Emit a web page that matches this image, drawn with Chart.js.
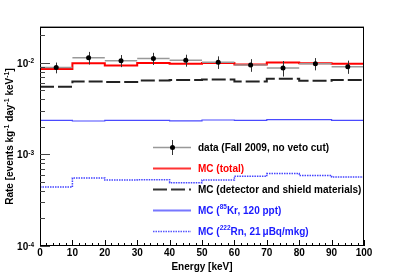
<!DOCTYPE html>
<html><head><meta charset="utf-8">
<script src="https://cdn.jsdelivr.net/npm/chart.js@4.4.0/dist/chart.umd.min.js"></script>
<style>html,body{margin:0;padding:0;background:#fff}canvas{display:block}</style>
</head><body>
<canvas id="c" width="405" height="274" style="width:405px;height:274px"></canvas>
<script>
// ---- data ----
const binEdges   = [0,10,20,30,40,50,60,70,80,90,100];
const binCenters = [5,15,25,35,45,55,65,75,85,95];
const dataRate   = [0.0089,0.0114,0.0106,0.0112,0.0107,0.0102,0.0095,0.0088,0.0098,0.0091];
const dataErr    = [0.0012,0.0018,0.0016,0.0017,0.0016,0.0016,0.0015,0.0017,0.0015,0.0015];
const mcTotal    = [0.0086,0.0099,0.0094,0.0100,0.0098,0.0100,0.0096,0.0101,0.0099,0.0098];
const mcDetector = [0.00548,0.00627,0.0062,0.00642,0.00653,0.0066,0.00627,0.00674,0.00637,0.0065];
const mcKr       = [0.00236,0.00232,0.00236,0.00236,0.00233,0.00238,0.00236,0.0024,0.0024,0.00236];
const mcRn       = [0.000441,0.000553,0.000526,0.00053,0.000492,0.000526,0.000577,0.000621,0.000591,0.000566];
const xTicks     = [0,10,20,30,40,50,60,70,80,90,100];
const yTicks     = [1e-4,1e-3,1e-2];
const yTickExp   = ['-4','-3','-2'];

const FONT = '"Liberation Sans", Arial, Helvetica, sans-serif';

function stepPoints(vals){
  const pts=[];
  for(let i=0;i<vals.length;i++){
    pts.push({x:binEdges[i],y:vals[i]});
    pts.push({x:binEdges[i+1],y:vals[i]});
  }
  return pts;
}

const DATA_INDEX = 4;

const rootPlugin = {
  id:'rootStyle',
  beforeDatasetDraw(chart,args){
    if(args.index!==DATA_INDEX) return;
    const ctx=chart.ctx, xs=chart.scales.x, ys=chart.scales.y;
    ctx.save();
    for(let i=0;i<dataRate.length;i++){
      const yv=ys.getPixelForValue(dataRate[i]);
      ctx.strokeStyle='#999'; ctx.lineWidth=1.5;
      ctx.beginPath();
      ctx.moveTo(xs.getPixelForValue(binEdges[i]),yv);
      ctx.lineTo(xs.getPixelForValue(binEdges[i+1]),yv);
      ctx.stroke();
      const xc=Math.round(xs.getPixelForValue(binCenters[i]))+0.5;
      ctx.strokeStyle='#333'; ctx.lineWidth=1;
      ctx.beginPath();
      ctx.moveTo(xc,ys.getPixelForValue(dataRate[i]+dataErr[i]));
      ctx.lineTo(xc,ys.getPixelForValue(dataRate[i]-dataErr[i]));
      ctx.stroke();
    }
    ctx.restore();
  },
  afterDraw(chart){
    const ctx=chart.ctx, xs=chart.scales.x, ys=chart.scales.y, a=chart.chartArea;
    ctx.save();
    // frame
    ctx.strokeStyle='#999'; ctx.lineWidth=1;
    ctx.beginPath(); ctx.moveTo(a.left,a.top-0.5); ctx.lineTo(a.right,a.top-0.5); ctx.stroke();
    ctx.strokeStyle='#000'; ctx.lineWidth=1;
    ctx.beginPath();
    ctx.moveTo(Math.round(a.left)+0.5,a.top); ctx.lineTo(Math.round(a.left)+0.5,a.bottom);
    ctx.moveTo(a.left,Math.round(a.bottom)-0.5); ctx.lineTo(a.right,Math.round(a.bottom)-0.5);
    ctx.moveTo(Math.round(a.right)-0.5,a.top); ctx.lineTo(Math.round(a.right)-0.5,a.bottom);
    ctx.moveTo(a.left,Math.round(a.top)+0.5); ctx.lineTo(a.right,Math.round(a.top)+0.5);
    ctx.stroke();
    // x ticks (inward)
    ctx.strokeStyle='#000'; ctx.lineWidth=1;
    ctx.beginPath();
    for(let v=0; v<=100; v+=2){
      const px=Math.round(xs.getPixelForValue(v))+0.5;
      const len=(v%10===0)?6:3;
      ctx.moveTo(px,a.bottom); ctx.lineTo(px,a.bottom-len);
    }
    ctx.stroke();
    // y ticks (inward, log)
    ctx.beginPath();
    ctx.strokeStyle='#444';
    for(let e=-4;e<=-2;e++){
      for(let m=1;m<=9;m++){
        const v=m*Math.pow(10,e);
        if(v<ys.min-1e-12||v>ys.max) continue;
        const py=Math.round(ys.getPixelForValue(v))+0.5;
        const len=(m===1)?10:5;
        ctx.moveTo(a.left,py); ctx.lineTo(a.left+len,py);
      }
    }
    ctx.stroke();
    // y tick labels 10^n
    ctx.fillStyle='#000';
    ctx.textBaseline='alphabetic';
    for(let i=0;i<yTicks.length;i++){
      const py=ys.getPixelForValue(yTicks[i]);
      ctx.font='bold 6.5px '+FONT;
      const sw=ctx.measureText(yTickExp[i]).width;
      ctx.textAlign='left';
      const xEnd=34;
      ctx.fillText(yTickExp[i],xEnd-sw,py+0.5);
      ctx.font='bold 10px '+FONT;
      ctx.textAlign='right';
      ctx.fillText('10',xEnd-sw,py+4);
    }
    // x title
    ctx.font='bold 10px '+FONT;
    ctx.textAlign='center';
    ctx.fillText('Energy [keV]',(a.left+a.right)/2,270);
    // y title with superscripts
    const parts=[['Rate [events kg',0],['-1',1],[' day',0],['-1',1],[' keV',0],['-1',1],[']',0]];
    let total=0;
    for(const [t,s] of parts){ ctx.font=(s?'bold 7px ':'bold 10px ')+FONT; total+=ctx.measureText(t).width; }
    ctx.save();
    ctx.translate(13,(a.top+a.bottom)/2+total/2);
    ctx.rotate(-Math.PI/2);
    ctx.textAlign='left';
    let cx=0;
    for(const [t,s] of parts){
      ctx.font=(s?'bold 7px ':'bold 10px ')+FONT;
      ctx.fillText(t,cx,s?-4:0);
      cx+=ctx.measureText(t).width;
    }
    ctx.restore();
    // legend
    const lx0=153, lx1=191, tx=198;
    const rowY=[147.5,168.5,189.5,210.5,231.5];
    // data
    ctx.strokeStyle='#999'; ctx.lineWidth=1.5;
    ctx.beginPath(); ctx.moveTo(lx0,rowY[0]); ctx.lineTo(lx1,rowY[0]); ctx.stroke();
    ctx.strokeStyle='#333'; ctx.lineWidth=1;
    ctx.beginPath(); ctx.moveTo(172.5,140); ctx.lineTo(172.5,155); ctx.stroke();
    ctx.fillStyle='#000'; ctx.beginPath(); ctx.arc(172.5,rowY[0],2.5,0,Math.PI*2); ctx.fill();
    // total
    ctx.strokeStyle='#ff3333'; ctx.lineWidth=2;
    ctx.beginPath(); ctx.moveTo(lx0,rowY[1]); ctx.lineTo(lx1,rowY[1]); ctx.stroke();
    // detector
    ctx.strokeStyle='#333'; ctx.lineWidth=2; ctx.setLineDash([14,4]);
    ctx.beginPath(); ctx.moveTo(lx0,rowY[2]); ctx.lineTo(lx1,rowY[2]); ctx.stroke();
    // Kr
    ctx.setLineDash([]);
    ctx.strokeStyle='#7777ff'; ctx.lineWidth=2;
    ctx.beginPath(); ctx.moveTo(lx0,rowY[3]); ctx.lineTo(lx1,rowY[3]); ctx.stroke();
    // Rn
    ctx.strokeStyle='#5555ff'; ctx.lineWidth=1.5; ctx.setLineDash([1.5,1]);
    ctx.beginPath(); ctx.moveTo(lx0,rowY[4]); ctx.lineTo(lx1,rowY[4]); ctx.stroke();
    ctx.setLineDash([]);
    // legend text
    function rich(parts,x,y,color){
      ctx.fillStyle=color; ctx.textAlign='left'; ctx.textBaseline='alphabetic';
      let cx=x;
      for(const [t,s] of parts){
        ctx.font=(s?'bold 6.5px ':'bold 10px ')+FONT;
        ctx.fillText(t,cx,s?y-5:y);
        cx+=ctx.measureText(t).width;
      }
    }
    rich([['data (Fall 2009, no veto cut)',0]],tx,rowY[0]+3.5,'#000');
    rich([['MC (total)',0]],tx,rowY[1]+3.5,'#ff0000');
    rich([['MC (detector and shield materials)',0]],tx,rowY[2]+3.5,'#000');
    rich([['MC (',0],['85',1],['Kr, 120 ppt)',0]],tx,rowY[3]+3.5,'#1a1aff');
    rich([['MC (',0],['222',1],['Rn, 21\u2009\u03bcBq/mkg)',0]],tx,rowY[4]+3.5,'#1a1aff');
    ctx.restore();
  }
};

new Chart(document.getElementById('c'),{
  type:'line',
  data:{datasets:[
    {label:'MC (222Rn)',data:stepPoints(mcRn),borderColor:'#4444ff',borderWidth:1.5,borderDash:[1.5,1],pointRadius:0,tension:0,order:5},
    {label:'MC (85Kr)',data:stepPoints(mcKr),borderColor:'#4a4aff',borderWidth:1.2,pointRadius:0,tension:0,order:4},
    {label:'MC (detector)',data:stepPoints(mcDetector),borderColor:'#222',borderWidth:2,borderDash:[14,4],pointRadius:0,tension:0,order:3},
    {label:'MC (total)',data:stepPoints(mcTotal),borderColor:'#ff0000',borderWidth:2,pointRadius:0,tension:0,order:2},
    {label:'data',data:binCenters.map((x,i)=>({x:x,y:dataRate[i]})),showLine:false,pointRadius:2.5,pointBackgroundColor:'#000',pointBorderWidth:0,order:0}
  ]},
  options:{
    responsive:false, animation:false, devicePixelRatio:1,
    layout:{padding:{left:0,right:41,top:27,bottom:0}},
    plugins:{legend:{display:false},tooltip:{enabled:false}},
    scales:{
      x:{type:'linear',min:0,max:100,
        grid:{display:false,drawTicks:false,tickLength:0},border:{display:false},
        ticks:{padding:1,color:'#000',maxRotation:0,autoSkip:false,font:{family:FONT,size:10,weight:'bold'}},
        afterBuildTicks(s){s.ticks=xTicks.map(v=>({value:v}));},
        afterFit(s){s.height=28;}
      },
      y:{type:'logarithmic',min:1e-4,max:0.0247,
        grid:{display:false,drawTicks:false,tickLength:0},border:{display:false},
        ticks:{display:false},
        afterBuildTicks(s){s.ticks=yTicks.map(v=>({value:v}));},
        afterFit(s){s.width=40;}
      }
    }
  },
  plugins:[rootPlugin]
});
</script>
</body></html>
